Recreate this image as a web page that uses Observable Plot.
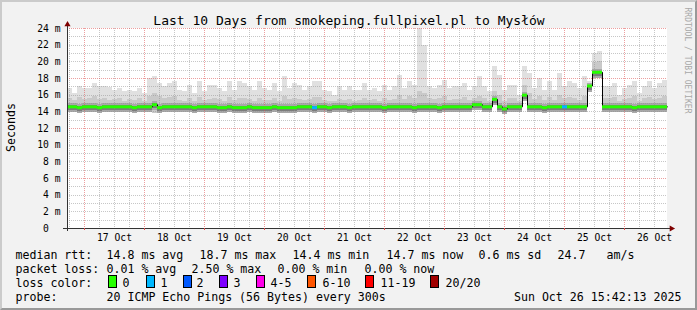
<!DOCTYPE html>
<html><head><meta charset="utf-8">
<script src="https://cdn.jsdelivr.net/npm/d3@7"></script>
<script src="https://cdn.jsdelivr.net/npm/@observablehq/plot@0.6"></script>
<style>
html,body{margin:0;padding:0;background:#fff;}
#wrap{position:relative;width:697px;height:310px;background:#f2f2f2;overflow:hidden;}
#wrap svg{display:block;position:absolute;left:0;top:0;}
#border{position:absolute;left:0;top:0;width:697px;height:310px;box-sizing:border-box;border-top:2px solid #cbcbcb;border-left:2px solid #cbcbcb;border-right:2px solid #999;border-bottom:2px solid #999;pointer-events:none;}
</style></head><body><div id="wrap"><div id="border"></div></div>
<script>
// ---- data (2-hour columns, seconds in ms) ----
const smokeMax = [
16.8,16.2,17.0,16.8,16.8,17.4,17.0,17.0,16.9,16.6,
16.8,16.4,16.6,16.4,16.8,16.2,18.0,18.2,17.4,17.0,
17.4,17.7,16.6,16.4,17.2,16.2,17.6,16.5,17.2,17.2,
16.8,16.4,17.6,16.6,17.6,17.4,17.0,16.6,17.6,16.8,
16.6,17.4,16.4,18.2,16.8,17.4,17.2,16.6,17.0,17.6,
17.6,16.6,16.4,16.0,17.0,16.6,17.0,16.6,16.6,17.4,
16.6,16.8,16.4,17.2,16.6,17.0,18.4,16.8,17.6,17.2,
24.0,22.0,17.0,16.8,17.2,17.8,16.8,17.0,17.0,17.4,
16.6,17.0,18.2,17.0,16.4,19.4,18.4,16.6,17.2,17.2,
16.0,19.4,18.6,16.8,18.0,16.6,17.6,16.6,18.6,17.0,
17.6,17.4,16.8,18.2,17.6,21.0,21.3,17.0,17.0,17.4,
16.0,16.8,17.2,17.6,16.2,17.0,17.6,16.8,17.4,17.8];
const smokeUpper = [
15.6,15.4,15.7,15.5,15.6,15.8,15.5,15.6,15.4,15.5,
15.6,15.3,15.5,15.4,15.6,15.3,15.9,16.2,15.8,15.6,
15.7,15.8,15.4,15.3,15.6,15.3,15.7,15.4,15.5,15.6,
15.5,15.3,15.7,15.4,15.6,15.6,15.5,15.3,15.6,15.4,
15.4,15.6,15.3,15.8,15.5,15.6,15.5,15.4,15.5,15.7,
15.7,15.4,15.3,15.2,15.5,15.4,15.5,15.3,15.4,15.6,
15.4,15.5,15.3,15.6,15.4,15.5,16.0,15.5,15.8,15.6,
16.4,16.2,15.6,15.5,15.6,15.8,15.4,15.5,15.5,15.7,
15.4,15.6,15.9,15.6,15.3,16.4,16.0,15.3,15.6,15.6,
15.3,17.2,16.2,15.5,15.9,15.4,15.7,15.4,16.0,15.6,
15.7,15.6,15.4,15.9,17.3,19.9,20.0,15.6,15.6,15.7,
15.3,15.5,15.6,15.8,15.3,15.6,15.7,15.5,15.6,15.8];
const smokeMin = [
14.0,14.1,14.0,14.0,14.1,14.0,13.9,14.0,14.1,14.0,
14.0,14.1,14.0,14.0,14.1,14.0,13.9,13.8,14.0,14.0,
14.0,14.1,14.0,14.0,14.0,14.1,14.0,14.0,13.9,14.0,
14.0,14.0,14.1,14.0,14.0,14.0,13.9,14.0,14.0,14.1,
14.0,14.0,14.1,14.0,14.0,13.9,14.0,14.0,14.1,14.0,
14.0,14.0,14.1,14.0,14.0,14.0,13.9,14.0,14.0,14.1,
14.0,14.0,14.0,14.1,14.0,14.0,14.0,13.9,14.0,14.0,
14.0,14.1,14.0,14.0,14.0,14.0,14.1,14.0,14.0,14.0,
14.0,14.55,14.55,14.0,14.0,15.2,14.0,13.9,14.0,14.0,
14.0,15.6,14.0,14.0,14.1,14.0,14.0,14.0,14.0,14.0,
14.0,14.1,14.0,14.0,16.7,18.3,18.3,14.0,14.0,14.0,
14.1,14.0,14.0,14.0,14.0,14.1,14.0,14.0,14.0,14.0];
const median = [
14.6,14.6,14.5,14.6,14.6,14.6,14.5,14.6,14.6,14.6,
14.6,14.6,14.6,14.5,14.6,14.6,14.6,14.85,14.5,14.6,
14.6,14.6,14.6,14.6,14.6,14.5,14.6,14.6,14.6,14.6,
14.5,14.5,14.6,14.5,14.5,14.5,14.6,14.5,14.5,14.5,
14.5,14.6,14.5,14.5,14.5,14.5,14.6,14.6,14.6,14.5,
14.6,14.6,14.5,14.6,14.6,14.6,14.5,14.6,14.6,14.6,
14.6,14.6,14.6,14.5,14.6,14.6,14.6,14.6,14.6,14.5,
14.6,14.6,14.6,14.6,14.5,14.6,14.6,14.6,14.6,14.6,
14.6,14.85,14.85,14.6,14.6,15.5,14.6,14.35,14.6,14.6,
14.6,16.0,14.6,14.6,14.6,14.5,14.6,14.6,14.6,14.6,
14.6,14.6,14.6,14.6,17.1,18.75,18.75,14.6,14.6,14.6,
14.6,14.6,14.6,14.5,14.6,14.6,14.6,14.6,14.6,14.6];
const lossColumns = [49, 99];
const lossCounts = [1, 1];

const dayLabels = ["17 Oct","18 Oct","19 Oct","20 Oct","21 Oct","22 Oct","23 Oct","24 Oct","25 Oct","26 Oct"];
const yTicks = [0,2,4,6,8,10,12,14,16,18,20,22,24];
const lossLabels = ["0","1","2","3","4-5","6-10","11-19","20/20"];
const lossColors = ["#26ff00","#00b8ff","#0059ff","#7e00ff","#ff00ea","#ff5500","#ff0000","#a10000"];
const rttStats = ["14.8 ms avg","18.7 ms max","14.4 ms min","14.7 ms now","0.6 ms sd","24.7","am/s"];
const lossStats = ["0.01 % avg","2.50 % max","0.00 % min","0.00 % now"];
const probeText = "20 ICMP Echo Pings (56 Bytes) every 300s";
const stampText = "Sun Oct 26 15:42:13 2025";
const titleText = "Last 10 Days from smokeping.fullpixel.pl to Mysłów";

// ---- time frame ----
const tStart = Date.UTC(2025, 9, 16, 17, 12);
const step = 2 * 3600 * 1000;
const tEnd = tStart + 120 * step;
const startD = new Date(tStart), endD = new Date(tEnd);

function lossColor(n) {
  if (n <= 0) return lossColors[0];
  if (n === 1) return lossColors[1];
  if (n === 2) return lossColors[2];
  if (n === 3) return lossColors[3];
  if (n <= 5) return lossColors[4];
  if (n <= 10) return lossColors[5];
  if (n <= 19) return lossColors[6];
  return lossColors[7];
}

const cols = median.map((m, i) => {
  const k = lossColumns.indexOf(i);
  return {
    t0: new Date(tStart + i * step), t1: new Date(tStart + (i + 1) * step),
    med: m, max: smokeMax[i], up: smokeUpper[i], min: smokeMin[i],
    loss: k >= 0 ? lossCounts[k] : 0
  };
});
const stepPts = cols.map(c => ({t: c.t0, v: c.med})).concat([{t: endD, v: median[median.length - 1]}]);

const noonDates = dayLabels.map((_, i) => new Date(Date.UTC(2025, 9, 17 + i, 12)));
const midnights = d3.utcDay.range(startD, endD);
const sixHours = d3.utcHour.every(6).range(startD, endD).filter(d => d.getUTCHours() !== 0);
const yMajor = [6, 12, 18, 24];
const yMinor = d3.range(1, 24).filter(v => v % 6 !== 0);

// ---- layout helpers ----
const ML = 67, MT = 28;
const FONT = "'DejaVu Sans Mono', monospace";
function label(s, x, y, o = {}) {
  return Plot.text([s], {text: d => d, frameAnchor: "top-left", dx: x - ML, dy: y - MT,
    textAnchor: "start", lineAnchor: "bottom", fontSize: 11.6, fill: "#000", ...o});
}
const boxSymbol = {draw(ctx) { ctx.rect(-4, -6, 8, 12); }};
function swatch(color, x, top) {
  return Plot.dot([0], {frameAnchor: "top-left", dx: x + 4 - ML, dy: top + 6 - MT,
    symbol: boxSymbol, r: 3, fill: color, stroke: "#000", strokeWidth: 1, shapeRendering: "crispEdges"});
}

const rowY = [258, 272, 286, 300];
const rttX = [107, 200, 293, 387, 479, 558, 607];
const lossX = [107, 192, 278, 365];
const swX = [108, 146, 183, 219, 256, 307, 365, 430];
const swLabelX = [122, 160, 196, 233, 270, 322, 380, 445];

const marks = [
  Plot.rect([0], {x1: () => startD, x2: () => endD, y1: () => 0, y2: () => 24, fill: "#ffffff"}),
  // smoke
  Plot.rect(cols, {x1: "t0", x2: "t1", y1: "min", y2: "max", fill: "#e0e0e0", shapeRendering: "crispEdges"}),
  Plot.rect(cols, {x1: "t0", x2: "t1", y1: "min", y2: "up", fill: "#c9c9c9", shapeRendering: "crispEdges"}),
  Plot.ruleY(cols, {y: "med", x1: "t0", x2: "t1", dy: 1, stroke: "#a8a8a8", strokeWidth: 9, shapeRendering: "crispEdges"}),
  Plot.ruleY(cols, {y: "med", x1: "t0", x2: "t1", dy: 1, stroke: "#7c7c7c", strokeWidth: 5, shapeRendering: "crispEdges"}),
  // grid
  Plot.ruleY(yMinor, {stroke: "#8f8f8f", strokeOpacity: 0.5, strokeDasharray: "1,1", shapeRendering: "crispEdges"}),
  Plot.ruleX(sixHours, {stroke: "#8f8f8f", strokeOpacity: 0.5, strokeDasharray: "1,1", shapeRendering: "crispEdges"}),
  Plot.ruleY(yMajor, {stroke: "#de5050", strokeOpacity: 0.55, strokeDasharray: "1,1", shapeRendering: "crispEdges"}),
  Plot.ruleX(midnights, {stroke: "#de5050", strokeOpacity: 0.55, strokeDasharray: "1,1", shapeRendering: "crispEdges"}),
  // median
  Plot.line(stepPts, {x: "t", y: "v", curve: "step-after", stroke: "#000", strokeWidth: 1}),
  Plot.ruleY(cols, {y: "med", x1: "t0", x2: "t1", stroke: d => lossColor(d.loss), strokeWidth: 3}),
  // axes lines & arrows
  Plot.ruleX([startD], {stroke: "#333", insetTop: -6, insetBottom: -3, shapeRendering: "crispEdges"}),
  Plot.ruleY([0], {stroke: "#333", insetLeft: -4, insetRight: -3, shapeRendering: "crispEdges"}),
  Plot.dot([0], {x: () => startD, y: () => 24, dy: -4, symbol: "triangle", r: 2.3, fill: "#7f0000", stroke: "none"}),
  Plot.dot([0], {x: () => endD, y: () => 0, dx: 4, symbol: "triangle", rotate: 90, r: 2.3, fill: "#7f0000", stroke: "none"}),
  Plot.axisX({ticks: midnights, tickSize: 2, tickFormat: () => "", stroke: "#de5050", label: null}),
  Plot.axisX({ticks: noonDates, tickSize: 0, tickPadding: 6, fontSize: 9.7, label: null,
    tickFormat: d => dayLabels[Math.round((d - noonDates[0]) / 864e5)]}),
  Plot.axisY({ticks: yTicks, tickSize: 0, tickPadding: 7, fontSize: 9.7, label: null,
    tickFormat: d => d === 0 ? "0\u00a0\u00a0" : `${d} m`}),
  // title & side texts
  Plot.text([titleText], {text: d => d, frameAnchor: "top-left", dx: 348.5 - ML, dy: 24 - MT,
    textAnchor: "middle", lineAnchor: "bottom", fontSize: 13, fill: "#000"}),
  Plot.text(["Seconds"], {text: d => d, frameAnchor: "top-left", dx: 10.5 - ML, dy: 127 - MT,
    rotate: -90, textAnchor: "middle", lineAnchor: "middle", fontSize: 11.6, fill: "#000"}),
  Plot.text(["RRDTOOL / TOBI OETIKER"], {text: d => d, frameAnchor: "top-left", dx: 687 - ML, dy: 60 - MT,
    rotate: 90, textAnchor: "middle", lineAnchor: "middle", fontSize: 8, fill: "#a8a8a8"}),
  // legend
  label("median rtt:", 15, rowY[0]),
  ...rttStats.map((s, i) => label(s, rttX[i] - 1, rowY[0])),
  label("packet loss:", 15, rowY[1]),
  ...lossStats.map((s, i) => label(s, lossX[i] - 1, rowY[1])),
  label("loss color:", 15, rowY[2]),
  ...lossColors.map((c, i) => swatch(c, swX[i], 274.5)),
  ...lossLabels.map((s, i) => label(s, swLabelX[i], rowY[2])),
  label("probe:", 15, rowY[3]),
  label(probeText, 106, rowY[3]),
  label(stampText, 681, rowY[3], {textAnchor: "end"})
];

const chart = Plot.plot({
  width: 697, height: 310,
  marginLeft: ML, marginRight: 30, marginTop: MT, marginBottom: 82,
  style: {background: "transparent", fontFamily: FONT, fontSize: "9.7px", color: "#000", overflow: "visible"},
  x: {type: "utc", domain: [startD, endD]},
  y: {domain: [0, 24]},
  marks
});
const wrap = document.getElementById("wrap");
wrap.insertBefore(chart, document.getElementById("border"));
</script></body></html>
